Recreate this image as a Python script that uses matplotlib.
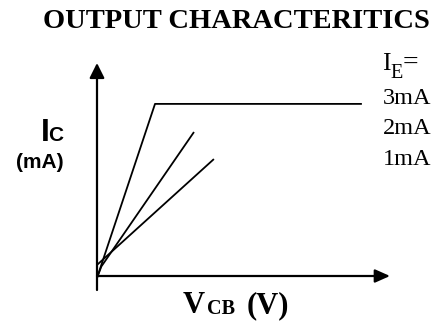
import matplotlib
matplotlib.use("Agg")
import matplotlib.pyplot as plt

# Schematic data (arbitrary units)
vcb_3mA = [0.0, 1.98, 9.04]
ic_3mA = [-0.09, 8.08, 8.08]
vcb_2mA = [0.0, 0.15, 3.31]
ic_2mA = [-0.09, 0.45, 6.76]
vcb_1mA = [0.0, 3.99]
ic_1mA = [0.52, 5.49]
curve_labels = ["3mA", "2mA", "1mA"]

W, H = 441, 328
fig = plt.figure(figsize=(W / 100, H / 100), dpi=100)
fig.patch.set_facecolor("white")

def fx(px):
    return px / W

def fy(py):
    return 1 - py / H

# axes rectangle (pixels): x 97..390, y 63..290 (top-down)
ax = fig.add_axes([97 / W, (H - 290) / H, (390 - 97) / W, (290 - 63) / H])
ax.set_xlim(0, 10)
ax.set_ylim(-14 / 21.3, 213 / 21.3)
ax.axis("off")

lw = 1.3
for xs, ys in [(vcb_3mA, ic_3mA), (vcb_2mA, ic_2mA), (vcb_1mA, ic_1mA)]:
    ax.plot(xs, ys, color="black", lw=lw, solid_capstyle="butt", clip_on=False)

# axes with arrows
ax.annotate("", xy=(0, 1), xytext=(0, 0), xycoords="axes fraction",
            arrowprops=dict(arrowstyle="-|>,head_length=0.9,head_width=0.45",
                            color="black", lw=1.6, shrinkA=0, shrinkB=0))
ax.annotate("", xy=(10, 0), xytext=(0, 0), xycoords="data",
            arrowprops=dict(arrowstyle="-|>,head_length=0.9,head_width=0.4",
                            color="black", lw=1.6, shrinkA=0, shrinkB=0))

serif = ["Liberation Serif", "DejaVu Serif"]
sans = ["Liberation Sans", "DejaVu Sans"]

# Title
fig.text(fx(236), fy(28), "OUTPUT CHARACTERITICS", family=serif,
         fontweight="bold", fontsize=20.5, ha="center", va="baseline")

# Y label: I_C (mA)
fig.text(fx(41), fy(141), "I", family=sans, fontweight="bold",
         fontsize=23, ha="left", va="baseline")
fig.text(fx(48.5), fy(141), "C", family=sans, fontweight="bold",
         fontsize=15, ha="left", va="baseline")
fig.text(fx(40), fy(162.5), "(mA)", family=sans, fontweight="bold",
         fontsize=15, ha="center", va="center")

# X label: V_CB (V)
fig.text(fx(183), fy(313), "V", family=serif, fontweight="bold",
         fontsize=22, ha="left", va="baseline")
fig.text(fx(207), fy(314), "CB", family=serif, fontweight="bold",
         fontsize=14.5, ha="left", va="baseline")
fig.text(fx(289), fy(313), "(V)", family=serif, fontweight="bold",
         fontsize=22, ha="right", va="baseline")

# I_E = legend text
fig.text(fx(382), fy(70), "I", family=serif, fontsize=18.5, ha="left", va="baseline")
fig.text(fx(390), fy(78), "E", family=serif, fontsize=14.5, ha="left", va="baseline")
fig.text(fx(403), fy(70), "=", family=serif, fontsize=20, ha="left", va="baseline")
for i, lab in enumerate(curve_labels):
    fig.text(fx(383), fy(104 + 30.5 * i), lab, family=serif, fontsize=17.5,
             ha="left", va="baseline")

fig.savefig("out.png", dpi=100, facecolor="white")
